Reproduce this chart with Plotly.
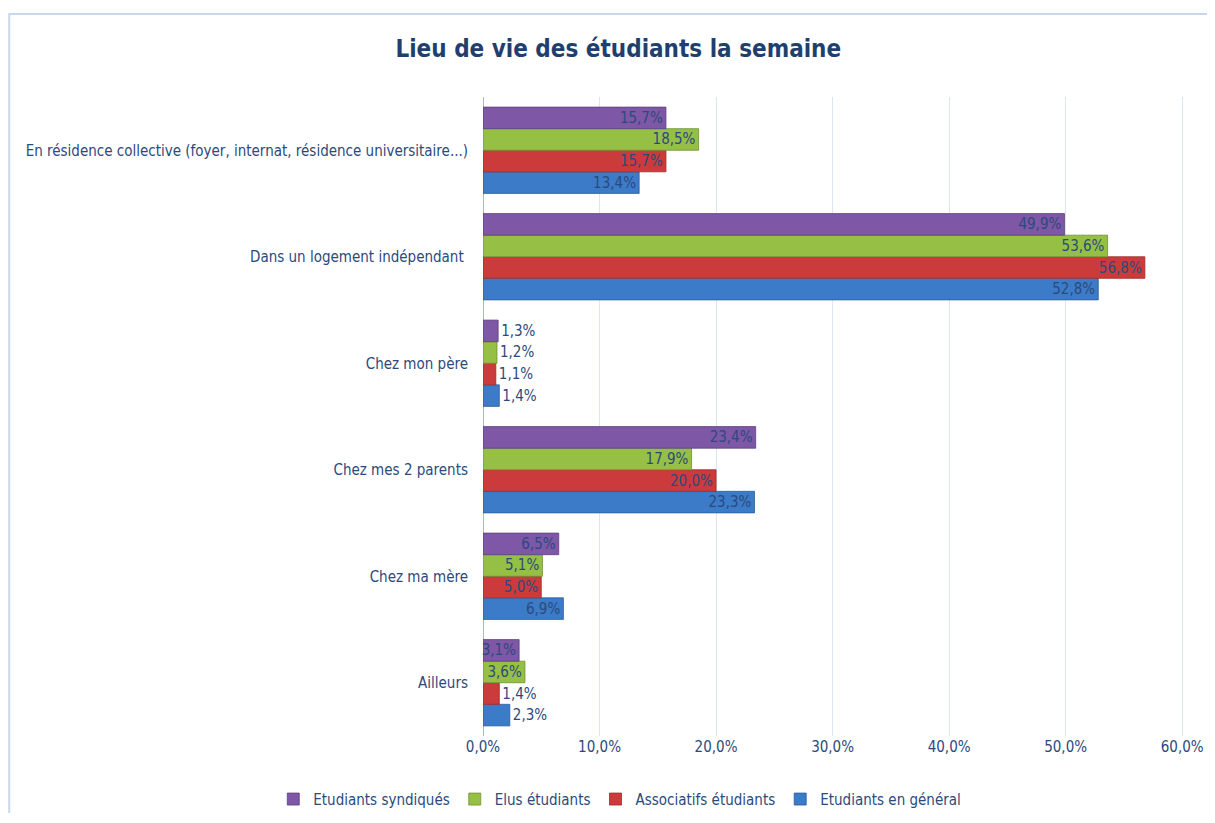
import plotly.graph_objects as go

# categories, bottom to top (plotly draws the first category at the bottom)
categories = [
    "Ailleurs",
    "Chez ma mère",
    "Chez mes 2 parents",
    "Chez mon père",
    "Dans un logement indépendant ",
    "En résidence collective (foyer, internat, résidence universitaire...)",
]

etudiants_general = [2.3, 6.9, 23.3, 1.4, 52.8, 13.4]
associatifs = [1.4, 5.0, 20.0, 1.1, 56.8, 15.7]
elus = [3.6, 5.1, 17.9, 1.2, 53.6, 18.5]
syndiques = [3.1, 6.5, 23.4, 1.3, 49.9, 15.7]

tick_vals = [0, 10, 20, 30, 40, 50, 60]
tick_labels = ["0,0%", "10,0%", "20,0%", "30,0%", "40,0%", "50,0%", "60,0%"]

series = [
    ("Etudiants en général", etudiants_general, "#3B7BC8", "#2C5E9C"),
    ("Associatifs étudiants", associatifs, "#CC3B3B", "#9E2B2B"),
    ("Elus étudiants", elus, "#95C045", "#6F9030"),
    ("Etudiants syndiqués", syndiques, "#7E57A6", "#5E3F7E"),
]

label_color = "#2B4A7C"
font_family = "DejaVu Sans Condensed, Liberation Sans Narrow, sans-serif"

fig = go.Figure()
for name, vals, color, edge in series:
    fig.add_trace(
        go.Bar(
            y=categories,
            x=vals,
            name=name,
            orientation="h",
            marker=dict(color=color, line=dict(color=edge, width=0.8)),
            texttemplate="%{x:.1f}%",
            textposition="auto",
            insidetextanchor="end",
            constraintext="none",
            textfont=dict(color=label_color, size=15, family=font_family),
            cliponaxis=False,
        )
    )

# page body has an 8px margin, so the figure is sized to fit the window
fig.update_layout(
    width=1199,
    height=805,
    title=dict(
        text="<b>Lieu de vie des étudiants la semaine</b>",
        x=0.509,
        xanchor="center",
        y=0.95,
        yanchor="middle",
        font=dict(size=24, color="#1F3F6F", family=font_family),
    ),
    barmode="group",
    bargap=0.19,
    bargroupgap=0,
    separators=", ",
    margin=dict(l=475, r=19, t=89, b=77),
    plot_bgcolor="white",
    paper_bgcolor="white",
    font=dict(family=font_family, size=15, color=label_color),
    legend=dict(
        orientation="h",
        traceorder="reversed",
        x=0.194,
        xanchor="center",
        yref="container",
        y=0.017,
        yanchor="middle",
        font=dict(size=15, color=label_color),
        itemwidth=30,
    ),
    shapes=[
        # light frame around the whole chart
        dict(
            type="rect",
            xref="paper",
            yref="paper",
            x0=-0.672,
            x1=1.1,
            y0=-0.3,
            y1=1.13,
            line=dict(color="#C9D7EB", width=2),
            layer="below",
        )
    ],
)

fig.update_xaxes(
    range=[0, 60.5],
    tickvals=tick_vals,
    ticktext=tick_labels,
    automargin=False,
    showgrid=True,
    gridcolor="#DCE5F1",
    gridwidth=1,
    zeroline=True,
    zerolinecolor="#A9B8CC",
    zerolinewidth=1,
    tickfont=dict(size=15, color=label_color),
    ticks="",
)
fig.update_yaxes(
    automargin=False,
    tickfont=dict(size=15, color=label_color),
    ticks="",
    ticklabelstandoff=14,
)

fig.write_html("out.html")
